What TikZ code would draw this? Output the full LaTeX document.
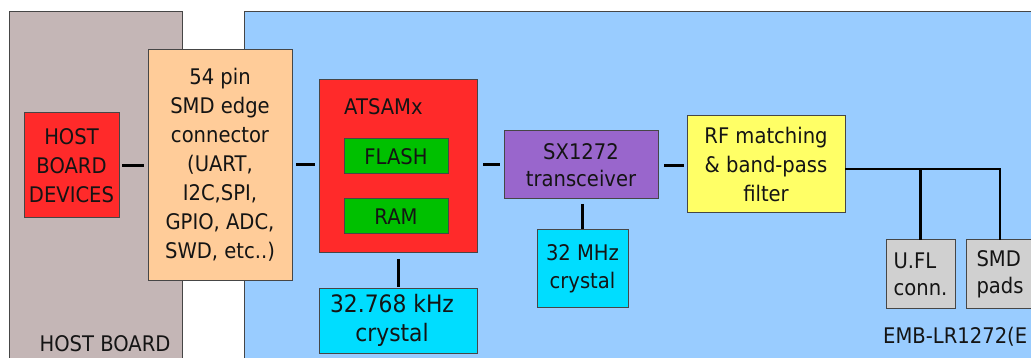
\documentclass[tikz,border=0pt]{standalone}
\usepackage{fontspec}
\setmainfont{DejaVu Sans}[FakeStretch=0.91]
\definecolor{hostgray}{RGB}{196,182,182}
\definecolor{modblue}{RGB}{153,204,255}
\definecolor{devred}{RGB}{255,42,42}
\definecolor{peach}{RGB}{255,204,153}
\definecolor{memgreen}{RGB}{0,192,0}
\definecolor{xtalcyan}{RGB}{0,221,255}
\definecolor{sxpurple}{RGB}{153,102,204}
\definecolor{rfyellow}{RGB}{255,255,102}
\definecolor{padgray}{RGB}{208,208,208}
\definecolor{edge}{RGB}{70,70,70}
\definecolor{ink}{RGB}{20,20,20}
\tikzset{
  blk/.style={draw=edge, line width=1pt, inner sep=0pt, outer sep=0pt, align=center, text=ink,
    font=\fontsize{21.5}{29}\selectfont},
  wire/.style={line width=3pt, black},
  lbl/.style={inner sep=0pt, text=ink, font=\fontsize{21.5}{29}\selectfont}
}
\begin{document}
\begin{tikzpicture}[x=1pt,y=-1pt]
\useasboundingbox (0,0) rectangle (1031,358);
\clip (0,0) rectangle (1031,358);
\fill[white] (0,0) rectangle (1031,358);
% boards
\draw[draw=edge, line width=1pt, fill=hostgray] (9,12) rectangle (182,375);
\draw[draw=edge, line width=1pt, fill=modblue] (244,12) rectangle (1045,375);
% blocks
\node[blk, fill=devred, minimum width=95pt, minimum height=105pt] (hostdev) at (71.5,165.5) {HOST\\BOARD\\DEVICES};
\node[blk, fill=peach, minimum width=144pt, minimum height=230pt] (conn) at (220,165) {54 pin\\SMD edge\\connector\\(UART,\\I2C,SPI,\\GPIO, ADC,\\SWD, etc..)};
\node[blk, fill=devred, minimum width=158pt, minimum height=173pt] (mcu) at (398,166.5) {};
\node[lbl, anchor=west] (mcul) at (344,106.7) {ATSAMx};
\node[blk, fill=memgreen, minimum width=104pt, minimum height=35pt] (flash) at (396,156.5) {FLASH};
\node[blk, fill=memgreen, minimum width=104pt, minimum height=35pt] (ram) at (396,216.5) {RAM};
\node[blk, fill=xtalcyan, minimum width=158pt, minimum height=65pt] (khz) at (398,320.5) {};
\node[lbl, align=center, font=\fontsize{24}{29.3}\selectfont] (khzt) at (392,320.5) {32.768 kHz\\crystal};
\node[blk, fill=sxpurple, minimum width=154pt, minimum height=68pt, font=\fontsize{21.5}{27.5}\selectfont] (sx) at (581,165) {SX1272\\transceiver};
\node[blk, fill=xtalcyan, minimum width=91pt, minimum height=77pt, font=\fontsize{21.5}{28}\selectfont] (mhz) at (582.5,268.5) {32 MHz\\crystal};
\node[blk, fill=rfyellow, minimum width=158pt, minimum height=97pt] (rf) at (766,164.5) {RF matching\\\& band-pass\\filter};
\node[blk, fill=padgray, minimum width=69pt, minimum height=68pt, align=left, font=\fontsize{21.5}{27}\selectfont] (ufl) at (920.5,274) {U.FL\\conn.};
\node[blk, fill=padgray, minimum width=68pt, minimum height=68pt, align=left, font=\fontsize{21.5}{27}\selectfont] (smd) at (1000,274) {SMD\\pads};
% labels
\node[lbl] (hostlbl) at (105,344) {HOST BOARD};
\node[lbl, anchor=west] (emblbl) at (883,337) {EMB-LR1272(E};
% wires
\draw[wire, shorten <=3pt, shorten >=4pt] (hostdev.east) -- (conn.west |- hostdev.east);
\draw[wire, shorten <=4pt, shorten >=4pt] (conn.east) -- (mcu.west |- conn.east);
\draw[wire, shorten <=6pt, shorten >=4pt] (mcu.east |- sx.west) -- (sx.west);
\draw[wire, shorten <=6pt, shorten >=3pt] ([yshift=-1pt]sx.east) -- ([yshift=-1pt]sx.east -| rf.west);
\draw[wire, shorten <=6pt, shorten >=1pt] (mcu.south) -- (khz.north);
\draw[wire, shorten <=5pt, shorten >=1pt] (mhz.north |- sx.south) -- (mhz.north);
\coordinate (rfout) at ([yshift=-4.7pt]rf.east);
\draw[line width=2.5pt, black] (rfout) -| (smd.north);
\draw[line width=2.5pt, black] (ufl.north) -- (ufl.north |- rfout);
\end{tikzpicture}
\end{document}
